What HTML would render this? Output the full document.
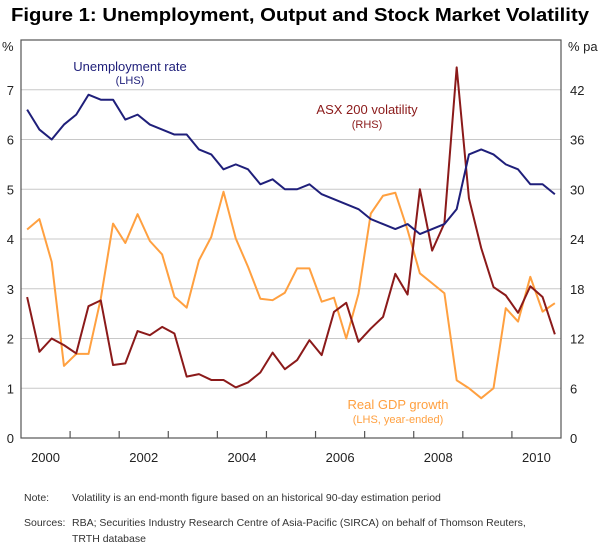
<!DOCTYPE html>
<html><head><meta charset="utf-8"><style>
body{margin:0;background:#fff;width:600px;height:545px;overflow:hidden;font-family:"Liberation Sans",sans-serif}
svg text{font-family:"Liberation Sans",sans-serif}
</style></head><body>
<svg id="c" width="600" height="545">
<text x="300" y="21" text-anchor="middle" font-size="18.5" font-weight="bold" fill="#000" textLength="578" lengthAdjust="spacingAndGlyphs">Figure 1: Unemployment, Output and Stock Market Volatility</text>
<g id="grid"></g><g id="series"></g><g id="axes"></g>
<text x="2" y="51" font-size="13" fill="#222">%</text>
<text x="568" y="51" font-size="13" fill="#222">% pa</text>
<text x="130" y="71" text-anchor="middle" font-size="13" fill="#1f1f7a">Unemployment rate</text>
<text x="130" y="84" text-anchor="middle" font-size="11" fill="#1f1f7a">(LHS)</text>
<text x="367" y="114" text-anchor="middle" font-size="13" fill="#8b1a1a">ASX 200 volatility</text>
<text x="367" y="128" text-anchor="middle" font-size="11" fill="#8b1a1a">(RHS)</text>
<text x="398" y="409" text-anchor="middle" font-size="13" fill="#ffa040">Real GDP growth</text>
<text x="398" y="423" text-anchor="middle" font-size="11" fill="#ffa040">(LHS, year-ended)</text>
<text x="24" y="501" font-size="10.5" fill="#333">Note:<tspan x="72">Volatility is an end-month figure based on an historical 90-day estimation period</tspan></text>
<text x="24" y="526" font-size="10.5" fill="#333">Sources:<tspan x="72">RBA; Securities Industry Research Centre of Asia-Pacific (SIRCA) on behalf of Thomson Reuters,</tspan><tspan x="72" y="542">TRTH database</tspan></text>
</svg>
<script>
const years=["2000","2002","2004","2006","2008","2010"];
const leftTicks=[0,1,2,3,4,5,6,7];
const rightTicks=[0,6,12,18,24,30,36,42];
const unemployment=[6.6,6.2,6.0,6.3,6.5,6.9,6.8,6.8,6.4,6.5,6.3,6.2,6.1,6.1,5.8,5.7,5.4,5.5,5.4,5.1,5.2,5.0,5.0,5.1,4.9,4.8,4.7,4.6,4.4,4.3,4.2,4.3,4.1,4.2,4.3,4.6,5.7,5.8,5.7,5.5,5.4,5.1,5.1,4.9];
const volatility=[17.0,10.4,12.0,11.2,10.2,15.9,16.6,8.8,9.0,12.9,12.4,13.4,12.6,7.4,7.7,7.0,7.0,6.1,6.7,7.9,10.3,8.3,9.4,11.8,10.0,15.2,16.3,11.6,13.2,14.6,19.8,17.3,30.0,22.6,25.9,44.7,28.9,22.9,18.2,17.2,15.1,18.3,17.0,12.5];
const gdp=[4.19,4.4,3.54,1.45,1.69,1.69,2.8,4.31,3.92,4.5,3.96,3.69,2.84,2.62,3.57,4.04,4.95,4.01,3.44,2.8,2.77,2.92,3.41,3.41,2.74,2.82,2.0,2.9,4.51,4.87,4.93,4.18,3.31,3.11,2.91,1.16,1.0,0.8,1.0,2.61,2.34,3.24,2.54,2.71];
const L=21,R=561,T=40,B=438,yearW=(R-L)/11;
const x=i=>L+yearW/4*(i+0.5);
const yL=v=>B-v*(B-T)/8;
const yR=v=>B-v*(B-T)/48;
const NS="http://www.w3.org/2000/svg";
function mk(tag,attrs,parent){const e=document.createElementNS(NS,tag);for(const k in attrs)e.setAttribute(k,attrs[k]);document.getElementById(parent).appendChild(e);return e;}
leftTicks.forEach((t,k)=>{
 if(t>0){const g=mk('line',{x1:L,x2:R,y1:yL(t),y2:yL(t),stroke:'#c8c8c8','stroke-width':1},'grid');
 
 }
 const a=mk('text',{x:14,y:yL(t)+5,'text-anchor':'end','font-size':13,fill:'#222'},'axes');a.textContent=t;
 
 
 const b=mk('text',{x:570,y:yR(rightTicks[k])+5,'font-size':13,fill:'#222'},'axes');b.textContent=rightTicks[k];
 
 
});
const fr=mk('rect',{x:L,y:T,width:R-L,height:B-T,fill:'none',stroke:'#555','stroke-width':1.2},'axes');


for(let k=1;k<11;k++){const tk=mk('line',{x1:L+k*yearW,x2:L+k*yearW,y1:B,y2:B-7,stroke:'#555','stroke-width':1.2},'axes');
 
 }
years.forEach((y,k)=>{const t=mk('text',{x:L+(2*k+0.5)*yearW,y:462,'text-anchor':'middle','font-size':13,fill:'#222'},'axes');t.textContent=y;
 
 });
function line(data,fy,color,name){const p=mk('polyline',{points:data.map((v,i)=>x(i)+','+fy(v)).join(' '),fill:'none',stroke:color,'stroke-width':2,'stroke-linejoin':'round'},'series');
 
 }
line(gdp,yL,'#ffa040','gdp-line');
line(volatility,yR,'#8b1a1a','volatility-line');
line(unemployment,yL,'#1f1f7a','unemployment-line');
</script>
</body></html>
